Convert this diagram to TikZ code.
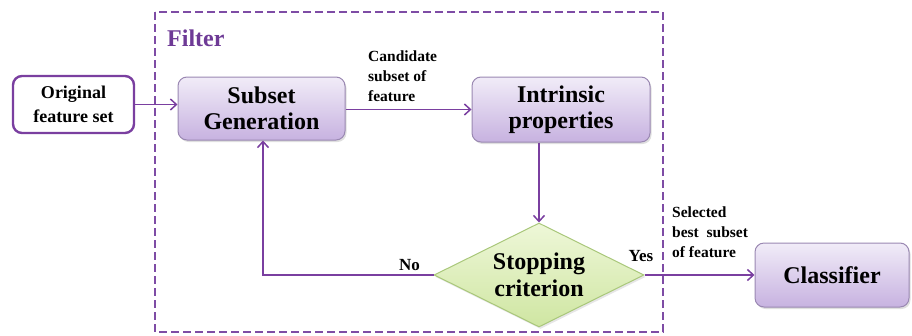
\documentclass[tikz,border=0pt]{standalone}
\usepackage{fontspec}
\setmainfont{Liberation Serif}
\usetikzlibrary{shapes.geometric,arrows.meta,shadows}
\definecolor{pline}{HTML}{7A3FA0}
\definecolor{pframe}{HTML}{7E4CA5}
\definecolor{ftext}{HTML}{6E3A96}
\definecolor{boxtop}{HTML}{F1ECF8}
\definecolor{boxbot}{HTML}{C7B2E0}
\definecolor{boxedge}{HTML}{9A88B2}
\definecolor{gtop}{HTML}{EEF7D8}
\definecolor{gbot}{HTML}{CFE6A2}
\definecolor{gedge}{HTML}{A9C77A}
\tikzset{
  procbox/.style={draw=boxedge, line width=1pt, rounded corners=9pt,
    top color=boxtop, bottom color=boxbot, align=center, inner sep=0pt,
    font=\bfseries\fontsize{24}{26}\selectfont,
    drop shadow={opacity=0.25, shadow xshift=1.5pt, shadow yshift=-2pt}},
  inbox/.style={draw=pline, line width=2.4pt, rounded corners=9pt, fill=white,
    align=center, inner sep=0pt, font=\bfseries\fontsize{18}{24}\selectfont},
  decbox/.style={diamond, draw=gedge, line width=1pt, top color=gtop, bottom color=gbot,
    inner sep=0pt, minimum width=210pt, minimum height=104pt,
    drop shadow={opacity=0.2, shadow xshift=1.5pt, shadow yshift=-2pt}},
  lbl/.style={font=\bfseries\fontsize{15.5}{20}\selectfont, align=left, inner sep=0pt},
  yn/.style={font=\bfseries\fontsize{17}{20}\selectfont, inner sep=0pt},
  conn/.style={draw=pline, line width=1.8pt},
  arr/.style={conn, -{Straight Barb[length=6pt,width=11pt,line width=1.5pt]}},
}
\begin{document}
\begin{tikzpicture}[x=1pt,y=-1pt]
\useasboundingbox (0,0) rectangle (912,335);
% filter frame
\draw[pframe, line width=2.4pt, dash pattern=on 8pt off 4pt] (155,12) rectangle (663,332);
\node[anchor=base west, text=ftext, font=\bfseries\fontsize{24}{26}\selectfont, inner sep=0pt] (filt) at (167,46) {Filter};
% nodes
\node[inbox, minimum width=121pt, minimum height=57pt] (orig) at (73.5,104.5) {Original\\feature set};
\node[procbox, minimum width=167pt, minimum height=63pt] (sub) at (261.5,108.5) {Subset\\Generation};
\node[procbox, minimum width=178pt, minimum height=65pt] (intr) at (561,109.5) {Intrinsic\\properties};
\node[decbox] (stop) at (539,275) {};
\node[align=center, inner sep=0pt, font=\bfseries\fontsize{24}{27}\selectfont] (stoptxt) at (stop.center) {Stopping\\criterion};
\node[procbox, minimum width=154pt, minimum height=64pt] (cls) at (832,275) {Classifier};
% labels
\node[lbl, anchor=north west] (cand) at (368,51) {Candidate\\subset of\\feature};
\node[lbl, anchor=north west] (sel) at (672,207) {Selected\\best\ \ subset\\of feature};
\node[yn, anchor=base] (no) at (409.5,270) {No};
\node[yn, anchor=base] (yes) at (641,261) {Yes};
% connectors
\coordinate (turn) at (263,275);
\draw[arr] (orig.east) -- (orig.east -| sub.west);
\draw[arr] (sub.east |- intr.west) -- (intr.west);
\draw[arr] (intr.south -| stop.north) -- (stop.north);
\draw[arr] (stop.west) -- (turn) -- (turn |- sub.south);
\draw[arr] (stop.east) -- (cls.west);
\end{tikzpicture}
\end{document}
